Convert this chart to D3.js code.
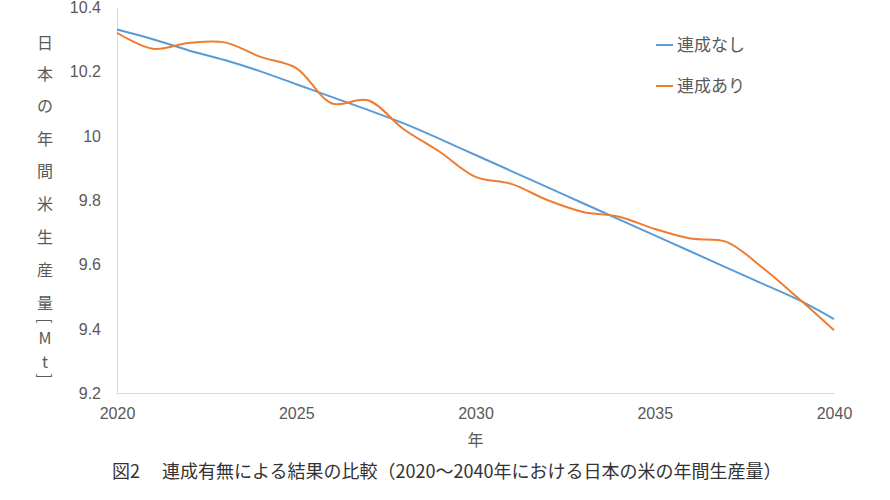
<!DOCTYPE html>
<html>
<head>
<meta charset="utf-8"/>
<title>連成有無による結果の比較</title>
<script src="https://cdn.jsdelivr.net/npm/d3@7"></script>
<style>
  body { margin: 0; background: #fff; font-family: "Noto Sans CJK JP", "Noto Sans", sans-serif; }
  .tick text { fill: #595959; font-size: 16px; }
</style>
</head>
<body>
<div id="chart"></div>
<script>
// data
var years = d3.range(2020, 2041);
var seriesNames = ["連成なし", "連成あり"];
var noCoupling = [10.33, 10.30, 10.265, 10.235, 10.20, 10.16, 10.12, 10.08, 10.038, 9.99, 9.94,
                  9.89, 9.84, 9.79, 9.74, 9.69, 9.64, 9.59, 9.54, 9.49, 9.43];
var withCoupling = [10.32, 10.27, 10.288, 10.29, 10.245, 10.21, 10.10, 10.11, 10.02, 9.95, 9.872,
                    9.85, 9.80, 9.763, 9.748, 9.71, 9.68, 9.67, 9.59, 9.495, 9.395];
var yTicks = [9.2, 9.4, 9.6, 9.8, 10, 10.2, 10.4];
var xTicks = [2020, 2025, 2030, 2035, 2040];
var colors = ["#5b9bd5", "#ed7d31"];
var yTitle = ["日", "本", "の", "年", "間", "米", "生", "産", "量", "[", "M", "t", "]"];
var caption = "図2　 連成有無による結果の比較（2020～2040年における日本の米の年間生産量）";

var width = 890, height = 500;
var margin = {left: 117, right: 56, top: 7, bottom: 107};

var svg = d3.select("#chart").append("svg")
  .attr("width", width).attr("height", height);

var x = d3.scaleLinear().domain([2020, 2040]).range([margin.left, width - margin.right]);
var y = d3.scaleLinear().domain([9.2, 10.4]).range([height - margin.bottom, margin.top]);

// axes
var yAxis = svg.append("g")
  .attr("transform", "translate(" + margin.left + ",0)")
  .call(d3.axisLeft(y).tickValues(yTicks).tickSize(0).tickPadding(16)
    .tickFormat(function(d) { return String(+d.toFixed(1)); }));
yAxis.select(".domain").attr("stroke", "#d9d9d9");
yAxis.selectAll(".tick text").attr("dy", "0.35em");

var xAxis = svg.append("g")
  .attr("transform", "translate(0," + (height - margin.bottom) + ")")
  .call(d3.axisBottom(x).tickValues(xTicks).tickSize(0).tickPadding(15)
    .tickFormat(d3.format("d")));
xAxis.select(".domain").attr("stroke", "#d9d9d9");

// lines
var line = d3.line()
  .x(function(d, i) { return x(years[i]); })
  .y(function(d) { return y(d); })
  .curve(d3.curveCatmullRom.alpha(0.5));

[noCoupling, withCoupling].forEach(function(s, i) {
  svg.append("path")
    .datum(s)
    .attr("fill", "none")
    .attr("stroke", colors[i])
    .attr("stroke-width", 2)
    .attr("d", line);
});

// legend
seriesNames.forEach(function(n, i) {
  var ly = 45 + i * 41;
  svg.append("line")
    .attr("x1", 656).attr("x2", 673).attr("y1", ly).attr("y2", ly)
    .attr("stroke", colors[i]).attr("stroke-width", 2);
  svg.append("text")
    .attr("x", 677).attr("y", ly).attr("dy", "0.35em")
    .attr("fill", "#595959").style("font-size", "17px")
    .text(n);
});

// y title, stacked vertically (brackets turned sideways)
var tY = [43, 74, 106, 139, 171, 204, 237, 270, 303, 321, 338, 362, 376];
yTitle.forEach(function(c, i) {
  var t = svg.append("text")
    .attr("fill", "#595959").style("font-size", "16px")
    .attr("text-anchor", "middle").attr("dy", "0.35em")
    .text(c);
  if (c === "[" || c === "]") {
    t.attr("transform", "translate(45," + tY[i] + ") rotate(90)");
  } else {
    t.attr("x", 45).attr("y", tY[i]);
  }
});

// x title
svg.append("text")
  .attr("x", x(2030)).attr("y", 440).attr("dy", "0.35em")
  .attr("text-anchor", "middle").attr("fill", "#595959").style("font-size", "16px")
  .text("年");

// caption
svg.append("text")
  .attr("x", 112).attr("y", 472).attr("dy", "0.35em")
  .attr("fill", "#333").style("font-size", "18px")
  .text(caption);
</script>
</body>
</html>
